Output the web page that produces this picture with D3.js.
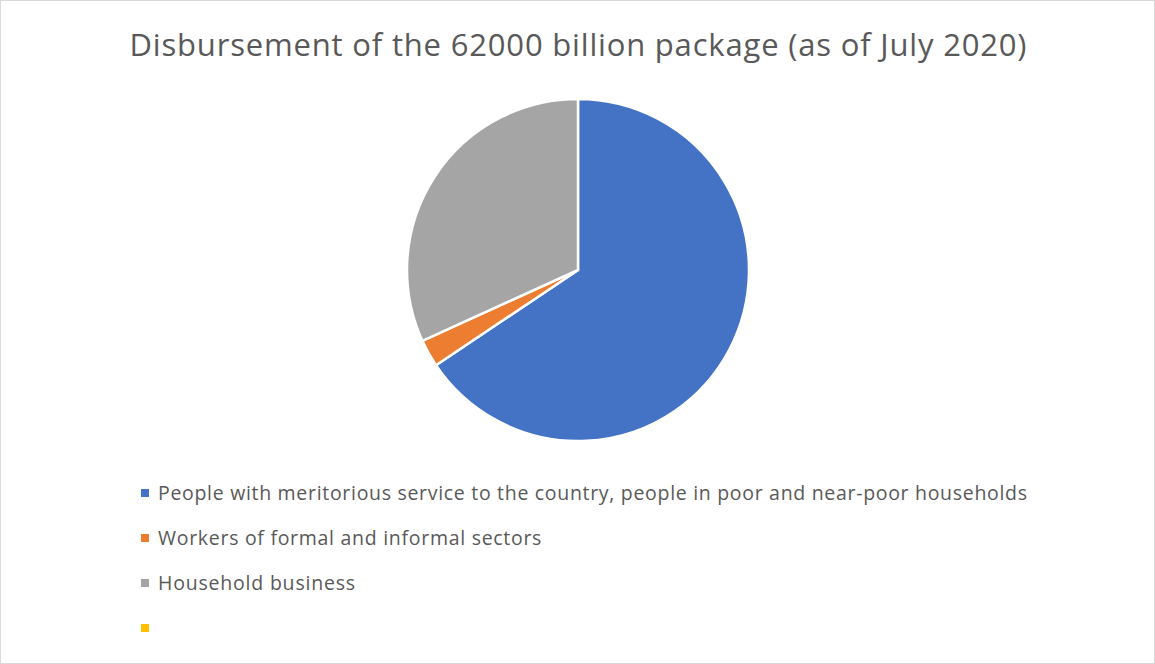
<!DOCTYPE html>
<html>
<head>
<meta charset="utf-8">
<script src="https://cdn.jsdelivr.net/npm/d3@7"></script>
<style>
  body { margin: 0; background: #fff; }
  text { font-family: "Open Sans", "Liberation Sans", sans-serif; fill: #595959; }
</style>
</head>
<body>
<svg id="chart"></svg>
<script>
// Data
const categories = [
  "People with meritorious service to the country, people in poor and near-poor households",
  "Workers of formal and informal sectors",
  "Household business",
  ""
];
const values = [65.6, 2.6, 31.8, 0];
const colors = ["#4472c4", "#ed7d31", "#a5a5a5", "#ffc000"];

const width = 1155;
const height = 664;

const svg = d3.select("#chart").attr("width", width).attr("height", height);

// Border
svg.append("rect")
  .attr("x", 0.5).attr("y", 0.5)
  .attr("width", width - 1).attr("height", height - 1)
  .attr("fill", "#fff")
  .attr("stroke", "#d9d9d9");

// Title
svg.append("text")
  .attr("x", 578).attr("y", 56)
  .attr("text-anchor", "middle")
  .attr("textLength", 897)
  .attr("lengthAdjust", "spacing")
  .style("font-size", "31px")
  .text("Disbursement of the 62000 billion package (as of July 2020)");

// Pie
const data = categories.map((c, i) => ({ name: c, value: values[i], color: colors[i] }));
const pie = d3.pie().value((d) => d.value).sort(null);
const arc = d3.arc().innerRadius(0).outerRadius(171);

svg.append("g")
  .attr("transform", "translate(578, 270)")
  .selectAll("path")
  .data(pie(data).filter((d) => d.data.value > 0))
  .enter()
  .append("path")
  .attr("d", arc)
  .attr("fill", (d) => d.data.color)
  .attr("stroke", "#fff")
  .attr("stroke-width", 2.5);

// Legend
const legend = svg.append("g").attr("transform", "translate(141, 493)");
const rows = legend.selectAll("g")
  .data(data)
  .enter()
  .append("g")
  .attr("transform", (d, i) => `translate(0, ${i * 45})`);

rows.append("rect")
  .attr("x", 0).attr("y", -4)
  .attr("width", 8).attr("height", 8)
  .attr("fill", (d) => d.color);

const labels = rows.append("text")
  .attr("x", 17).attr("y", 0)
  .attr("dy", "0.35em")
  .style("font-size", "19.5px")
  .text((d) => d.name);

// stretch labels a bit so the widths match the narrower original font
const first = labels.node().getComputedTextLength();
const k = 869 / first;
labels.each(function () {
  const w = this.getComputedTextLength();
  if (w > 0) d3.select(this).attr("textLength", w * k).attr("lengthAdjust", "spacing");
});
</script>
</body>
</html>
